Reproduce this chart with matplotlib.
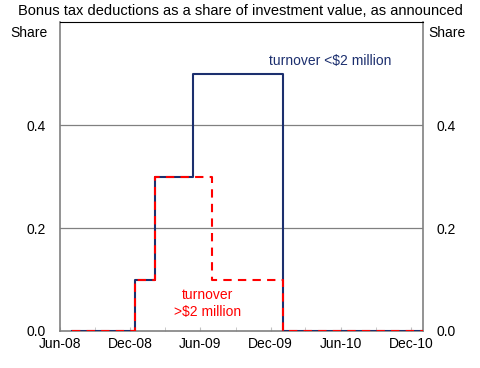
import datetime as dt

import matplotlib

matplotlib.use("Agg")
import matplotlib.dates as mdates
import matplotlib.pyplot as plt

plt.rcParams["font.family"] = ["Liberation Sans", "DejaVu Sans"]

# step points (date, share) as announced
small_dates = [
    "2008-07-01", "2008-12-13", "2008-12-13", "2009-02-03", "2009-02-03",
    "2009-05-12", "2009-05-12", "2010-01-01", "2010-01-01", "2011-01-01",
]
small_share = [0.0, 0.0, 0.1, 0.1, 0.3, 0.3, 0.5, 0.5, 0.0, 0.0]
large_dates = [
    "2008-07-01", "2008-12-13", "2008-12-13", "2009-02-03", "2009-02-03",
    "2009-07-01", "2009-07-01", "2010-01-01", "2010-01-01", "2011-01-01",
]
large_share = [0.0, 0.0, 0.1, 0.1, 0.3, 0.3, 0.1, 0.1, 0.0, 0.0]

yticks = [0.0, 0.2, 0.4]
NAVY = "#1c2f6e"
RED = "#ff0000"
GREY = "#808080"
FS = 10


def d(s):
    return dt.datetime.strptime(s, "%Y-%m-%d")


fig = plt.figure(figsize=(4.8, 3.68), dpi=100)
ax = fig.add_axes([60 / 480, 1 - 331 / 368, 363 / 480, 309 / 368])

ax.plot([d(s) for s in small_dates], small_share, color=NAVY, lw=1.5, zorder=3)
ax.plot([d(s) for s in large_dates], large_share, color=RED, lw=1.5,
        ls=(0, (4, 3)), zorder=4)

ax.set_xlim(d("2008-06-01"), d("2011-01-01"))
ax.set_ylim(0, 0.6)
ax.set_yticks(yticks)
ax.set_yticklabels([f"{v:.1f}" for v in yticks], fontsize=FS)
for y in yticks[1:]:
    ax.axhline(y, color=GREY, lw=0.9, zorder=1)

ax.xaxis.set_major_locator(mdates.MonthLocator(bymonth=[6, 12]))
ax.xaxis.set_major_formatter(mdates.DateFormatter("%b-%y"))
ax.xaxis.set_minor_locator(mdates.MonthLocator(bymonth=[3, 9]))
ax.tick_params(axis="x", which="both", direction="in", length=3, color="#c0c0c0",
               labelsize=FS, pad=4)
ax.tick_params(axis="y", length=0, labelsize=FS, pad=10,
               labelleft=True, labelright=True)

for side in ("left", "right", "bottom"):
    ax.spines[side].set_color(GREY)
    ax.spines[side].set_linewidth(1.2)
ax.spines["top"].set_color("black")
ax.spines["top"].set_linewidth(0.8)

fig.text(0.5, 1 - 11 / 368, "Bonus tax deductions as a share of investment value, as announced",
         ha="center", va="center", fontsize=10.5)
fig.text(10 / 480, 1 - 33 / 368, "Share", ha="left", va="center", fontsize=FS)
fig.text(428 / 480, 1 - 33 / 368, "Share", ha="left", va="center", fontsize=FS)

ax.text(d("2010-05-05"), 0.51, "turnover <$2 million", color=NAVY, fontsize=FS,
        ha="center", va="bottom")
ax.text(d("2009-06-20"), 0.054, "turnover\n>$2 million", color=RED, fontsize=FS,
        ha="center", va="center", linespacing=1.25)

fig.savefig("out.png", dpi=100)
